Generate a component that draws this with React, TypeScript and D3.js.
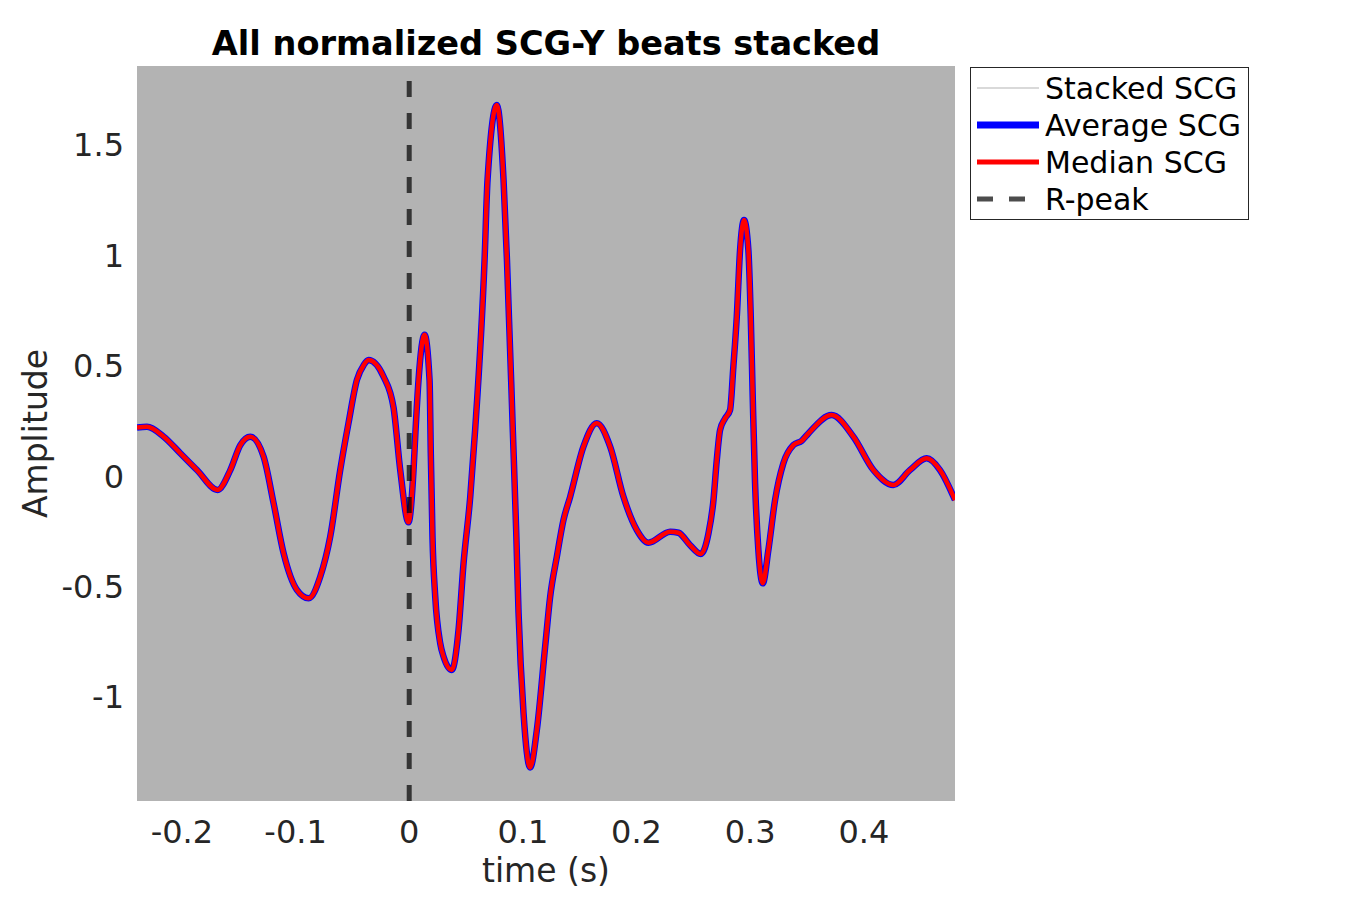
import { useMemo } from 'react'
import * as d3 from 'd3'

// beat time axis (s) and traced median / average SCG-Y amplitude
const timeSec = [
  -0.2395, -0.2307, -0.216, -0.2014, -0.1867, -0.1686, -0.1574, -0.1486, -0.1398, -0.1281,
  -0.1193, -0.1105, -0.0988, -0.0885, -0.0783, -0.0695, -0.0607, -0.0534, -0.046, -0.04,
  -0.0358, -0.0226, -0.0138, -0.0079, -0.0006, 0.0038, 0.0055, 0.0082, 0.0135, 0.0179,
  0.019, 0.0205, 0.0229, 0.0273, 0.0302, 0.0375, 0.0434, 0.0478, 0.0537, 0.058,
  0.0663, 0.0689, 0.0771, 0.083, 0.086, 0.0912, 0.0941, 0.0962, 0.1006, 0.1064,
  0.1123, 0.1196, 0.124, 0.1299, 0.1357, 0.1416, 0.1533, 0.165, 0.1768, 0.1885,
  0.2003, 0.2105, 0.2296, 0.2369, 0.2471, 0.2565, 0.2633, 0.2677, 0.2706, 0.2735,
  0.2779, 0.2823, 0.2852, 0.2882, 0.2911, 0.2946, 0.2984, 0.3005, 0.3023, 0.3043,
  0.3072, 0.3111, 0.316, 0.3219, 0.3292, 0.338, 0.3454, 0.3512, 0.3717, 0.3908,
  0.4084, 0.4259, 0.4406, 0.4553, 0.467, 0.4802,
]

const medianScg = [
  0.22, 0.223, 0.178, 0.103, 0.027, -0.063, 0.027, 0.14, 0.178, 0.087,
  -0.124, -0.35, -0.516, -0.554, -0.456, -0.275, 0.027, 0.24, 0.435, 0.503,
  0.525, 0.45, 0.31, 0.027, -0.21, 0.027, 0.2, 0.435, 0.64, 0.435,
  0.1, -0.28, -0.547, -0.758, -0.818, -0.879, -0.697, -0.396, -0.094, 0.208,
  0.978, 1.34, 1.68, 1.34, 0.978, 0.2, -0.245, -0.62, -1.075, -1.32,
  -1.15, -0.773, -0.547, -0.365, -0.2, -0.094, 0.133, 0.239, 0.133, -0.094,
  -0.245, -0.302, -0.252, -0.257, -0.313, -0.353, -0.26, -0.109, 0.072, 0.208,
  0.261, 0.299, 0.495, 0.721, 1.024, 1.159, 1.024, 0.721, 0.344, -0.033,
  -0.335, -0.486, -0.335, -0.109, 0.058, 0.14, 0.16, 0.193, 0.276, 0.178,
  0.027, -0.041, 0.027, 0.08, 0.027, -0.109,
]

// average beat is visually identical to the median in the picture
const averageScg = medianScg

const xTicks = [-0.2, -0.1, 0, 0.1, 0.2, 0.3, 0.4]
const yTicks = [-1, -0.5, 0, 0.5, 1, 1.5]

const legendItems = [
  { label: 'Stacked SCG', color: '#b3b3b3', width: 1, dash: null as string | null, opacity: 1 },
  { label: 'Average SCG', color: '#0000ff', width: 7, dash: null, opacity: 1 },
  { label: 'Median SCG', color: '#ff0000', width: 5, dash: null, opacity: 1 },
  { label: 'R-peak', color: '#000000', width: 5, dash: '16,16', opacity: 0.7 },
]

const W = 1350
const H = 900
const M = { left: 137, right: 955, top: 66, bottom: 801 }
const FONT = '"DejaVu Sans", sans-serif'

export default function App() {
  const x = useMemo(() => d3.scaleLinear().domain([-0.2395, 0.4802]).range([M.left, M.right]), [])
  const y = useMemo(() => d3.scaleLinear().domain([-1.472, 1.857]).range([M.bottom, M.top]), [])

  const pts: [number, number][] = timeSec.map((t, i) => [t, medianScg[i]])
  const avgPts: [number, number][] = timeSec.map((t, i) => [t, averageScg[i]])
  const line = d3
    .line<[number, number]>()
    .x(d => x(d[0]))
    .y(d => y(d[1]))
    .curve(d3.curveMonotoneX)

  const fmt = (v: number) => String(v)

  return (
    <svg
      width={W}
      height={H}
      style={{ position: 'absolute', left: 0, top: 0, background: '#fff' }}
      fontFamily={FONT}
    >
      <defs>
        <clipPath id="plot-clip">
          <rect x={M.left} y={M.top} width={M.right - M.left} height={M.bottom - M.top} />
        </clipPath>
      </defs>
      <rect x={M.left} y={M.top} width={M.right - M.left} height={M.bottom - M.top} fill="#b3b3b3" />

      <g clipPath="url(#plot-clip)">
        <path d={line(avgPts) ?? ''} fill="none" stroke="#0000ff" strokeWidth={6.5} strokeLinejoin="round" />
        <path d={line(pts) ?? ''} fill="none" stroke="#ff0000" strokeWidth={4.5} strokeLinejoin="round" />
        {/* R-peak marker, drawn from bottom up so the dashes line up with the axis floor */}
        <line
          x1={x(0)}
          x2={x(0)}
          y1={M.bottom}
          y2={M.top}
          stroke="#000"
          strokeOpacity={0.7}
          strokeWidth={5}
          strokeDasharray="16,16"
        />
      </g>

      {xTicks.map(t => (
        <text key={`x${t}`} x={x(t)} y={843} textAnchor="middle" fontSize={32} fill="#262626">
          {fmt(t)}
        </text>
      ))}
      {yTicks.map(t => (
        <text key={`y${t}`} x={124} y={y(t)} dy="0.36em" textAnchor="end" fontSize={32} fill="#262626">
          {fmt(t)}
        </text>
      ))}

      <text x={(M.left + M.right) / 2} y={882} textAnchor="middle" fontSize={33} fill="#262626">
        time (s)
      </text>
      <text
        transform={`translate(47,${(M.top + M.bottom) / 2}) rotate(-90)`}
        textAnchor="middle"
        fontSize={33}
        fill="#262626"
      >
        Amplitude
      </text>
      <text x={(M.left + M.right) / 2} y={55} textAnchor="middle" fontSize={33.6} fontWeight="bold" fill="#000">
        All normalized SCG-Y beats stacked
      </text>

      <g>
        <rect x={970.5} y={67.5} width={278} height={152} fill="#fff" stroke="#262626" strokeWidth={1} />
        {legendItems.map((item, i) => {
          const cy = 88 + i * 37
          return (
            <g key={item.label}>
              <line
                x1={977}
                x2={1039}
                y1={cy}
                y2={cy}
                stroke={item.color}
                strokeWidth={item.width}
                strokeOpacity={item.opacity}
                strokeDasharray={item.dash ?? undefined}
              />
              <text x={1045} y={cy} dy="0.35em" fontSize={30} fill="#000">
                {item.label}
              </text>
            </g>
          )
        })}
      </g>
    </svg>
  )
}
